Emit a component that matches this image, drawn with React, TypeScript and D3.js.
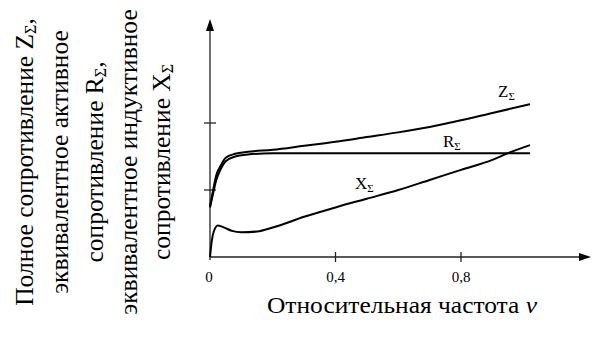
import React from "react";
import * as d3 from "d3";

const vZ = [0, 0.01, 0.02, 0.035, 0.05, 0.08, 0.12, 0.2, 0.3, 0.4, 0.5, 0.6, 0.7, 0.8, 0.9, 1.02];
const zValues = [0.76, 1.0, 1.22, 1.37, 1.48, 1.54, 1.57, 1.6, 1.66, 1.72, 1.79, 1.86, 1.94, 2.04, 2.15, 2.28];

const vR = [0, 0.01, 0.02, 0.035, 0.05, 0.08, 0.12, 0.2, 0.5, 1.02];
const rValues = [0.74, 0.95, 1.15, 1.32, 1.43, 1.5, 1.53, 1.55, 1.55, 1.55];

const vX = [0, 0.005, 0.012, 0.025, 0.04, 0.07, 0.1, 0.15, 0.2, 0.3, 0.4, 0.5, 0.6, 0.7, 0.8, 0.9, 0.95, 1.02];
const xValues = [0, 0.22, 0.38, 0.47, 0.45, 0.39, 0.37, 0.38, 0.44, 0.6, 0.74, 0.87, 1.0, 1.15, 1.3, 1.45, 1.55, 1.67];

const xTicks = [0.4, 0.8];
const xTickLabels = ["0,4", "0,8"];
const yTicks = [1, 2];

const yTitleLines = [
  ["Полное сопротивление Z", "Σ", ","],
  ["эквивалентное активное", "", ""],
  ["сопротивление R", "Σ", ","],
  ["эквивалентное индуктивное", "", ""],
  ["сопротивление X", "Σ", ""],
];

const FONT = "'Liberation Serif', 'Times New Roman', serif";

export default function App() {
  const x = d3.scaleLinear().domain([0, 0.8]).range([210, 461]);
  const y = d3.scaleLinear().domain([0, 2]).range([257, 123]);
  const mk = (vs: number[], ys: number[]) =>
    d3
      .line<number>()
      .x((_, i) => x(vs[i]))
      .y((d) => y(d))
      .curve(d3.curveMonotoneX)(ys) || "";

  const x0 = x(0);
  const y0 = y(0);
  const baselines = [33, 68, 103, 137, 170];

  return (
    <svg
      width={594}
      height={338}
      style={{ position: "absolute", left: 0, top: 0, background: "#fff", fontFamily: FONT }}
      fontFamily={FONT}
    >
      <rect width={594} height={338} fill="#fff" />
      {/* axes */}
      <line x1={x0} y1={y0 + 3} x2={x0} y2={30} stroke="#222" strokeWidth={1.3} />
      <path d={`M${x0},19 L${x0 - 4},31 L${x0 + 4},31 Z`} fill="#000" />
      <line x1={x0} y1={y0} x2={580} y2={y0} stroke="#222" strokeWidth={1.3} />
      <path d={`M591,${y0} L579,${y0 - 4} L579,${y0 + 4} Z`} fill="#000" />
      {xTicks.map((t, i) => (
        <g key={t}>
          <line x1={x(t)} x2={x(t)} y1={y0 - 5} y2={y0 + 5} stroke="#222" strokeWidth={1.3} />
          <text x={x(t)} y={282} fontSize={15} textAnchor="middle">
            {xTickLabels[i]}
          </text>
        </g>
      ))}
      <text x={x0 - 1} y={282} fontSize={15} textAnchor="middle">
        0
      </text>
      {yTicks.map((t) => (
        <line key={t} x1={x0 - 6} x2={x0 + 6} y1={y(t)} y2={y(t)} stroke="#222" strokeWidth={1.3} />
      ))}
      {/* curves */}
      <path d={mk(vZ, zValues)} fill="none" stroke="#000" strokeWidth={2} />
      <path d={mk(vR, rValues)} fill="none" stroke="#000" strokeWidth={2} />
      <path d={mk(vX, xValues)} fill="none" stroke="#000" strokeWidth={2} />
      {/* curve labels */}
      <text x={498} y={97} fontSize={17}>
        Z<tspan fontSize={11} dy={3}>Σ</tspan>
      </text>
      <text x={443} y={147} fontSize={17}>
        R<tspan fontSize={11} dy={3}>Σ</tspan>
      </text>
      <text x={355} y={189} fontSize={17}>
        X<tspan fontSize={11} dy={3}>Σ</tspan>
      </text>
      {/* x title */}
      <text x={267} y={313} fontSize={24} textLength={270} lengthAdjust="spacingAndGlyphs">
        Относительная частота{"  "}
        <tspan fontStyle="italic">v</tspan>
      </text>
      {/* y title */}
      <g transform="rotate(-90)">
        {yTitleLines.map((ln, i) => (
          <text key={i} x={-162} y={baselines[i]} fontSize={25.5} textAnchor="middle">
            {ln[0]}
            {ln[1] ? (
              <tspan fontSize={16} dy={3}>
                {ln[1]}
              </tspan>
            ) : null}
            {ln[2] ? <tspan dy={ln[1] ? -3 : 0}>{ln[2]}</tspan> : null}
          </text>
        ))}
      </g>
    </svg>
  );
}
